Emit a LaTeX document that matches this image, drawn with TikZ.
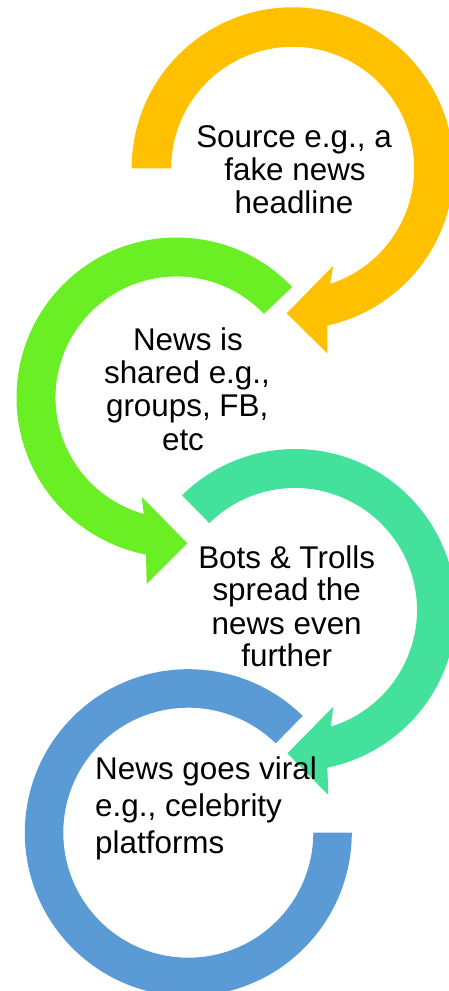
\documentclass[tikz,border=0pt]{standalone}
\usepackage{fontspec}
\setmainfont{Liberation Sans}
\usetikzlibrary{calc}
\definecolor{cYellow}{HTML}{FFC000}
\definecolor{cGreen}{HTML}{6AEE24}
\definecolor{cTeal}{HTML}{43E19B}
\definecolor{cBlue}{HTML}{5B9BD5}
\begin{document}
\begin{tikzpicture}[x=1pt,y=1pt,
  lblc/.style={anchor=base, inner sep=0pt, font=\fontsize{31.4}{33}\selectfont, text=black},
  lbll/.style={anchor=base west, inner sep=0pt, font=\fontsize{31.4}{33}\selectfont, text=black}]
\useasboundingbox (0,0) rectangle (449,991);
\clip (0,0) rectangle (449,991);
\coordinate (cA) at (292.7,822.7);
\coordinate (cB) at (176.5,593.5);
\coordinate (cC) at (295,381);
\coordinate (cD) at (188.3,158.3);
% blue ring
\fill[cBlue] ($(cD)+(45.6:163.5)$) arc[start angle=45.6,end angle=360,radius=163.5pt]
  -- ($(cD)+(0:125)$) arc[start angle=360,end angle=45.6,radius=125pt] -- cycle;
% teal arrow
\fill[cTeal] ($(cC)+(134.6:161)$) arc[start angle=134.6,end angle=-78.4,radius=161pt]
  -- (328.3,196) -- (287.3,237.7) -- (333.3,284.3)
  -- ($(cC)+(-72.9:122)$) arc[start angle=-72.9,end angle=134.6,radius=122pt] -- cycle;
% green arrow
\fill[cGreen] ($(cB)+(43.7:160)$) arc[start angle=43.7,end angle=259,radius=160pt]
  -- (146.7,407) -- (187.3,447.7) -- (141.7,494.3)
  -- ($(cB)+(254.3:121)$) arc[start angle=254.3,end angle=43.7,radius=121pt] -- cycle;
% yellow arrow
\fill[cYellow] ($(cA)+(180:161)$) arc[start angle=180,end angle=-77.6,radius=161pt]
  -- (327.3,637.7) -- (286.7,677.7) -- (333.3,725.3)
  -- ($(cA)+(-72.1:121.5)$) arc[start angle=-72.1,end angle=180,radius=121.5pt] -- cycle;
% texts
\node[lblc] (a1) at (294,843.5) {Source e.g., a};
\node[lblc] (a2) at (295,810.5) {fake news};
\node[lblc] (a3) at (294,777.5) {headline};
\node[lblc] (b1) at (188,640.3) {News is};
\node[lblc] (b2) at (187,607) {shared e.g.,};
\node[lblc] (b3) at (187.2,574) {groups, FB,};
\node[lblc] (b4) at (183,540.3) {etc};
\node[lblc] (c1) at (286.7,422.7) {Bots \& Trolls};
\node[lblc] (c2) at (286.7,390) {spread the};
\node[lblc] (c3) at (286.7,356.7) {news even};
\node[lblc] (c4) at (286.7,324.3) {further};
\node[lbll] (d1) at (95,211.7) {News goes viral};
\node[lbll] (d2) at (95,174.3) {e.g., celebrity};
\node[lbll] (d3) at (95,137) {platforms};
\end{tikzpicture}
\end{document}
